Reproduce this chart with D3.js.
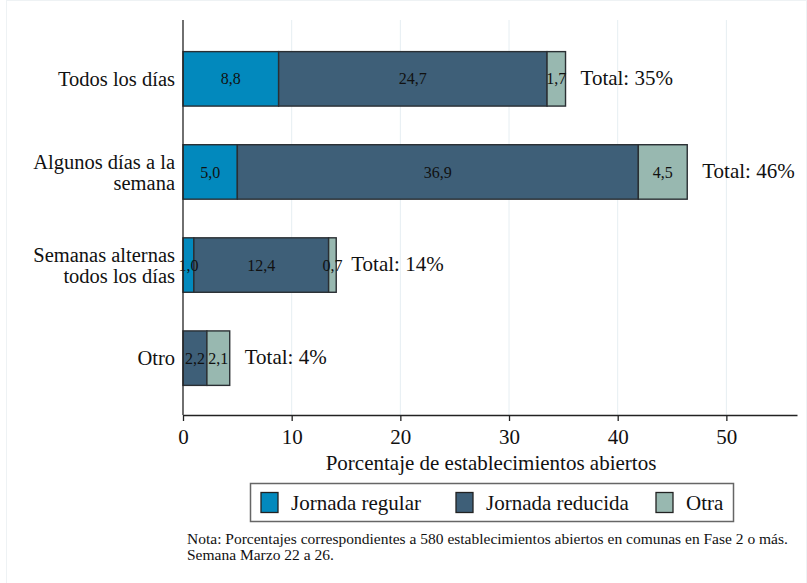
<!DOCTYPE html>
<html><head><meta charset="utf-8">
<script src="https://cdn.jsdelivr.net/npm/d3@7"></script>
<style>body{margin:0;background:#fff}svg{display:block}text{font-family:"Liberation Serif","Times New Roman",serif;fill:#111}</style>
</head><body>
<script>
const categories = [["Todos los días"], ["Algunos días a la", "semana"], ["Semanas alternas", "todos los días"], ["Otro"]];
const seriesNames = ["Jornada regular", "Jornada reducida", "Otra"];
const regular = [8.8, 5.0, 1.0, 0];
const reducida = [24.7, 36.9, 12.4, 2.2];
const otra = [1.7, 4.5, 0.7, 2.1];
const totals = ["Total: 35%", "Total: 46%", "Total: 14%", "Total: 4%"];
const xTicks = [0, 10, 20, 30, 40, 50];
const colors = ["#0289bd", "#3e5f78", "#98b8b0"];
const noteLines = ["Nota: Porcentajes correspondientes a 580 establecimientos abiertos en comunas en Fase 2 o más.", "Semana Marzo 22 a 26."];

const W = 807, H = 583;
const FONT = "Liberation Serif, Times New Roman, serif";
const svg = d3.select("body").append("svg").attr("width", W).attr("height", H);
const x = d3.scaleLinear().domain([0, 56.5]).range([183, 797]);
const y = d3.scaleBand().domain(d3.range(categories.length)).range([33, 404]).paddingInner(0.415).paddingOuter(0.2);

// faint outer frame
svg.append("rect").attr("x", 6.5).attr("y", 0.5).attr("width", W - 7).attr("height", H).attr("fill", "none").attr("stroke", "#eef2f4");

// grid
svg.append("g").selectAll("line").data(xTicks.slice(1)).join("line")
  .attr("x1", d => x(d)).attr("x2", d => x(d)).attr("y1", 20).attr("y2", 415)
  .attr("stroke", "#e6eef2").attr("stroke-width", 1);

// bars
const series = [regular, reducida, otra];
const stack = categories.map((c, i) => {
  let acc = 0;
  return series.map((s, k) => { const v = s[i]; const r = {i, k, x0: acc, x1: acc + v, v}; acc += v; return r; });
});
const bars = svg.append("g");
stack.forEach(row => {
  row.filter(r => r.v > 0).forEach(r => {
    bars.append("rect").attr("x", x(r.x0)).attr("y", y(r.i)).attr("width", x(r.x1) - x(r.x0)).attr("height", y.bandwidth())
      .attr("fill", colors[r.k]).attr("stroke", "#2a2f33").attr("stroke-width", 1.4);
  });
  row.filter(r => r.v > 0).forEach(r => {
    bars.append("text").attr("x", (x(r.x0) + x(r.x1)) / 2).attr("y", y(r.i) + y.bandwidth() / 2)
      .attr("dy", "0.35em").attr("text-anchor", "middle").attr("font-size", 16)
      .text(d3.format(".1f")(r.v).replace(".", ","));
  });
  const last = row[row.length - 1];
  bars.append("text").attr("x", x(last.x1) + 15).attr("y", y(last.i) + y.bandwidth() / 2)
    .attr("dy", "0.3em").attr("font-size", 21).text(totals[last.i]);
});

// y axis line & labels
svg.append("line").attr("x1", 183).attr("x2", 183).attr("y1", 20).attr("y2", 415).attr("stroke", "#222").attr("stroke-width", 1.3);
categories.forEach((lines, i) => {
  const cy = y(i) + y.bandwidth() / 2;
  const lh = 21;
  lines.forEach((l, j) => {
    svg.append("text").attr("x", 175).attr("y", cy + (j - (lines.length - 1) / 2) * lh).attr("dy", "0.35em")
      .attr("text-anchor", "end").attr("font-size", 20.5).text(l);
  });
});

// x axis
const xa = svg.append("g").attr("transform", "translate(0,415)")
  .call(d3.axisBottom(x).tickValues(xTicks).tickSize(6).tickSizeOuter(0).tickPadding(8));
xa.attr("font-family", FONT).attr("font-size", 21);
xa.select(".domain").attr("stroke", "#222").attr("stroke-width", 1.3);
xa.selectAll(".tick line").attr("stroke", "#222").attr("stroke-width", 1.3);
xa.selectAll("text").attr("font-size", 21).attr("font-family", FONT).attr("fill", "#111");
svg.append("text").attr("x", 491).attr("y", 470).attr("text-anchor", "middle").attr("font-size", 21)
  .text("Porcentaje de establecimientos abiertos");

// legend
const lg = svg.append("g");
lg.append("rect").attr("x", 250.5).attr("y", 483.5).attr("width", 483).attr("height", 38).attr("fill", "#fff").attr("stroke", "#666").attr("stroke-width", 1.5);
const legX = [261, 456, 656];
seriesNames.forEach((n, k) => {
  lg.append("rect").attr("x", legX[k]).attr("y", 492.5).attr("width", 17).attr("height", 20).attr("fill", colors[k]).attr("stroke", "#222").attr("stroke-width", 1.3);
  lg.append("text").attr("x", legX[k] + 30).attr("y", 503).attr("dy", "0.35em").attr("font-size", 21).text(n);
});

// note
noteLines.forEach((t, j) => {
  svg.append("text").attr("x", 187).attr("y", 544 + j * 16).attr("font-size", 15.5).text(t);
});
</script>
</body></html>
